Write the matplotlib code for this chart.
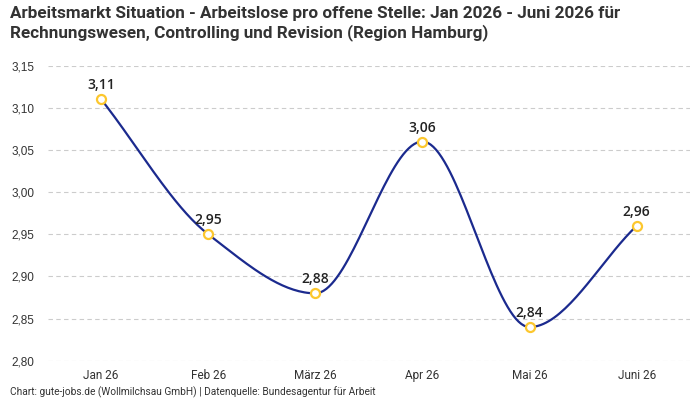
import numpy as np
import matplotlib
matplotlib.use("Agg")
import matplotlib.pyplot as plt

months = ["Jan 26", "Feb 26", "März 26", "Apr 26", "Mai 26", "Juni 26"]
values = [3.11, 2.95, 2.88, 3.06, 2.84, 2.96]
yticks = [2.80, 2.85, 2.90, 2.95, 3.00, 3.05, 3.10, 3.15]

title = ("Arbeitsmarkt Situation - Arbeitslose pro offene Stelle: Jan 2026 - Juni 2026 für\n"
         "Rechnungswesen, Controlling und Revision (Region Hamburg)")
footer = "Chart: gute-jobs.de (Wollmilchsau GmbH) | Datenquelle: Bundesagentur für Arbeit"

cond = "Roboto"


def monotone(x, y, n=40):
    x = np.asarray(x, float); y = np.asarray(y, float)
    h = np.diff(x); d = np.diff(y) / h
    m = np.zeros_like(y)
    m[0] = d[0]; m[-1] = d[-1]
    for i in range(1, len(y) - 1):
        if d[i - 1] * d[i] <= 0:
            m[i] = 0
        else:
            w1 = 2 * h[i] + h[i - 1]; w2 = h[i] + 2 * h[i - 1]
            m[i] = (w1 + w2) / (w1 / d[i - 1] + w2 / d[i])
    xs, ys = [], []
    for i in range(len(x) - 1):
        t = np.linspace(0, 1, n)
        h00 = 2 * t**3 - 3 * t**2 + 1; h10 = t**3 - 2 * t**2 + t
        h01 = -2 * t**3 + 3 * t**2; h11 = t**3 - t**2
        xs.append(x[i] + t * h[i])
        ys.append(h00 * y[i] + h10 * h[i] * m[i] + h01 * y[i + 1] + h11 * h[i] * m[i + 1])
    return np.concatenate(xs), np.concatenate(ys)


fig = plt.figure(figsize=(7, 4), dpi=100)
ax = fig.add_axes([0.068, 0.098, 0.918, 0.738])
xpos = np.arange(len(months))
sx, sy = monotone(xpos, values)
ax.plot(sx, sy, color="#1b2a8e", lw=1.6, zorder=3)
ax.plot(xpos, values, "o", ms=6.5, mfc="white", mec="#fcc72e", mew=1.6, zorder=4)
for xi, v in zip(xpos, values):
    ax.annotate(f"{v:.2f}".replace(".", ","), (xi, v), xytext=(0, 5), textcoords="offset points",
                ha="center", va="bottom", fontsize=10, fontweight="semibold",
                family=["Open Sans", "DejaVu Sans"], color="#222222")

ax.set_xlim(-0.5, len(months) - 0.5)
ax.set_ylim(yticks[0], yticks[-1])
ax.set_yticks(yticks)
ax.set_yticklabels([f"{t:.2f}".replace(".", ",") for t in yticks], family="Liberation Sans",
                   fontsize=8.5, color="#333333")
ax.set_xticks(xpos)
ax.set_xticklabels(months, family=[cond, "DejaVu Sans"], fontsize=8.5, color="#333333")
ax.tick_params(axis="x", length=0, pad=6)
ax.tick_params(axis="y", length=0, pad=9.5)
for s in ax.spines.values():
    s.set_visible(False)
ax.grid(axis="y", color="#cccccc", ls=(0, (4, 3)), lw=0.8)
ax.set_axisbelow(True)

fig.text(0.014, 0.985, title, ha="left", va="top", fontsize=12.3, fontweight="bold",
         family=[cond, "DejaVu Sans"], color="#333333", linespacing=1.2)
fig.text(0.014, 0.004, footer, ha="left", va="bottom", fontsize=7.3, family=[cond, "DejaVu Sans"],
         color="#333333")

fig.savefig("out.png", dpi=100)
